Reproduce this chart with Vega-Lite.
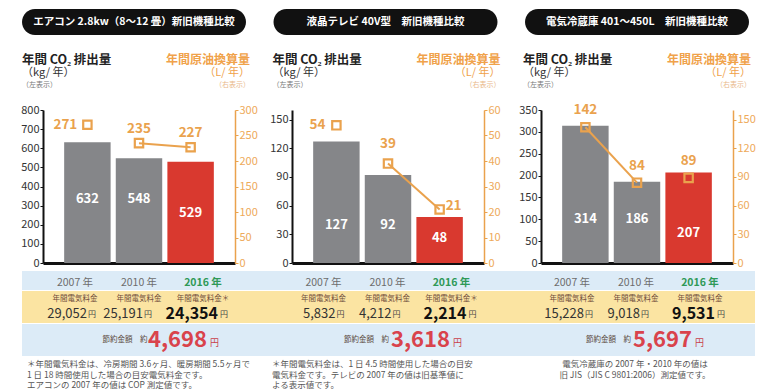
{
 "$schema": "https://vega.github.io/schema/vega-lite/v6.json",
 "background": "white",
 "padding": {"left": 20, "top": 9, "right": 0, "bottom": 0},
 "columns": 1,
 "align": "none",
 "spacing": 0,
 "config": {
  "view": {"stroke": null},
  "font": "Noto Sans CJK JP",
  "text": {"font": "Noto Sans CJK JP"},
  "axis": {"labelFont": "Noto Sans CJK JP", "grid": false, "labelOverlap": false},
  "axisY": {"labelOverlap": false, "tickCount": 20},
  "title": {"font": "Noto Sans CJK JP"}
 },
 "datasets": {
  "aircon": [
   {"year": "2007 年", "co2": 632, "oil": 271, "cost": 29052, "label": "年間電気料金"},
   {"year": "2010 年", "co2": 548, "oil": 235, "cost": 25191, "label": "年間電気料金"},
   {"year": "2016 年", "co2": 529, "oil": 227, "cost": 24354, "label": "年間電気料金＊"}
  ],
  "tv": [
   {"year": "2007 年", "co2": 127, "oil": 54, "cost": 5832, "label": "年間電気料金"},
   {"year": "2010 年", "co2": 92, "oil": 39, "cost": 4212, "label": "年間電気料金"},
   {"year": "2016 年", "co2": 48, "oil": 21, "cost": 2214, "label": "年間電気料金＊"}
  ],
  "fridge": [
   {"year": "2007 年", "co2": 314, "oil": 142, "cost": 15228, "label": "年間電気料金"},
   {"year": "2010 年", "co2": 186, "oil": 84, "cost": 9018, "label": "年間電気料金"},
   {"year": "2016 年", "co2": 207, "oil": 89, "cost": 9531, "label": "年間電気料金"}
  ],
  "header": [
   {"side": "左", "line": 1, "text": "年間 CO₂ 排出量"},
   {"side": "左", "line": 2, "text": "（kg/ 年）"},
   {"side": "左", "line": 3, "text": "（左表示）"},
   {"side": "右", "line": 1, "text": "年間原油換算量"},
   {"side": "右", "line": 2, "text": "（L/ 年）"},
   {"side": "右", "line": 3, "text": "（右表示）"}
  ],
  "none": []
 },
 "concat": [
  {
   "spacing": 27.5,
   "hconcat": [
    {"width": 224, "height": 26, "view": {"fill": "#111111", "cornerRadius": 13, "stroke": null},
     "data": {"values": [{"t": "エアコン 2.8kw（8～12 畳）新旧機種比較"}]},
     "mark": {"type": "text", "color": "white", "fontWeight": "bold", "fontSize": 10.5},
     "encoding": {"text": {"field": "t"}}},
    {"width": 224, "height": 26, "view": {"fill": "#111111", "cornerRadius": 13, "stroke": null},
     "data": {"values": [{"t": "液晶テレビ 40V型　新旧機種比較"}]},
     "mark": {"type": "text", "color": "white", "fontWeight": "bold", "fontSize": 10.5},
     "encoding": {"text": {"field": "t"}}},
    {"width": 224, "height": 26, "view": {"fill": "#111111", "cornerRadius": 13, "stroke": null},
     "data": {"values": [{"t": "電気冷蔵庫 401～450L　新旧機種比較"}]},
     "mark": {"type": "text", "color": "white", "fontWeight": "bold", "fontSize": 10.5},
     "encoding": {"text": {"field": "t"}}}
   ]
  },
  {
   "spacing": 22.5,
   "hconcat": [
    {"width": 228, "height": 67.5, "data": {"name": "header"},
     "encoding": {
      "x": {"field": "side", "type": "nominal", "scale": {"type": "point", "domain": ["左", "右"], "padding": 0}, "axis": null},
      "y": {"field": "line", "type": "ordinal", "scale": {"type": "point", "domain": [1, 2, 3], "range": [25, 50], "padding": 0}, "axis": null},
      "text": {"field": "text"}
     },
     "layer": [
      {"transform": [{"filter": "datum.side == '左' && datum.line == 1"}], "mark": {"type": "text", "align": "left", "fontSize": 12.5, "fontWeight": "bold", "color": "#222222"}},
      {"transform": [{"filter": "datum.side == '左' && datum.line == 2"}], "mark": {"type": "text", "align": "left", "fontSize": 11, "color": "#333333"}},
      {"transform": [{"filter": "datum.side == '左' && datum.line == 3"}], "mark": {"type": "text", "align": "left", "fontSize": 7, "color": "#777777"}},
      {"transform": [{"filter": "datum.side == '右' && datum.line == 1"}], "mark": {"type": "text", "align": "right", "fontSize": 12, "fontWeight": "bold", "color": "#f0a24a"}},
      {"transform": [{"filter": "datum.side == '右' && datum.line == 2"}], "mark": {"type": "text", "align": "right", "fontSize": 11, "color": "#f0a24a"}},
      {"transform": [{"filter": "datum.side == '右' && datum.line == 3"}], "mark": {"type": "text", "align": "right", "fontSize": 7, "color": "#e9b888"}}
     ]},
    {"width": 228, "height": 67.5, "data": {"name": "header"},
     "encoding": {
      "x": {"field": "side", "type": "nominal", "scale": {"type": "point", "domain": ["左", "右"], "padding": 0}, "axis": null},
      "y": {"field": "line", "type": "ordinal", "scale": {"type": "point", "domain": [1, 2, 3], "range": [25, 50], "padding": 0}, "axis": null},
      "text": {"field": "text"}
     },
     "layer": [
      {"transform": [{"filter": "datum.side == '左' && datum.line == 1"}], "mark": {"type": "text", "align": "left", "fontSize": 12.5, "fontWeight": "bold", "color": "#222222"}},
      {"transform": [{"filter": "datum.side == '左' && datum.line == 2"}], "mark": {"type": "text", "align": "left", "fontSize": 11, "color": "#333333"}},
      {"transform": [{"filter": "datum.side == '左' && datum.line == 3"}], "mark": {"type": "text", "align": "left", "fontSize": 7, "color": "#777777"}},
      {"transform": [{"filter": "datum.side == '右' && datum.line == 1"}], "mark": {"type": "text", "align": "right", "fontSize": 12, "fontWeight": "bold", "color": "#f0a24a"}},
      {"transform": [{"filter": "datum.side == '右' && datum.line == 2"}], "mark": {"type": "text", "align": "right", "fontSize": 11, "color": "#f0a24a"}},
      {"transform": [{"filter": "datum.side == '右' && datum.line == 3"}], "mark": {"type": "text", "align": "right", "fontSize": 7, "color": "#e9b888"}}
     ]},
    {"width": 228, "height": 67.5, "data": {"name": "header"},
     "encoding": {
      "x": {"field": "side", "type": "nominal", "scale": {"type": "point", "domain": ["左", "右"], "padding": 0}, "axis": null},
      "y": {"field": "line", "type": "ordinal", "scale": {"type": "point", "domain": [1, 2, 3], "range": [25, 50], "padding": 0}, "axis": null},
      "text": {"field": "text"}
     },
     "layer": [
      {"transform": [{"filter": "datum.side == '左' && datum.line == 1"}], "mark": {"type": "text", "align": "left", "fontSize": 12.5, "fontWeight": "bold", "color": "#222222"}},
      {"transform": [{"filter": "datum.side == '左' && datum.line == 2"}], "mark": {"type": "text", "align": "left", "fontSize": 11, "color": "#333333"}},
      {"transform": [{"filter": "datum.side == '左' && datum.line == 3"}], "mark": {"type": "text", "align": "left", "fontSize": 7, "color": "#777777"}},
      {"transform": [{"filter": "datum.side == '右' && datum.line == 1"}], "mark": {"type": "text", "align": "right", "fontSize": 12, "fontWeight": "bold", "color": "#f0a24a"}},
      {"transform": [{"filter": "datum.side == '右' && datum.line == 2"}], "mark": {"type": "text", "align": "right", "fontSize": 11, "color": "#f0a24a"}},
      {"transform": [{"filter": "datum.side == '右' && datum.line == 3"}], "mark": {"type": "text", "align": "right", "fontSize": 7, "color": "#e9b888"}}
     ]}
   ]
  },
  {
   "spacing": 0,
   "bounds": "flush",
   "hconcat": [
    {"width": 21, "height": 161, "data": {"name": "none"}, "mark": "point"},
    {
     "width": 192, "height": 153,
     "data": {"name": "aircon"},
     "encoding": {"x": {"field": "year", "type": "nominal", "sort": null, "scale": {"paddingInner": 0.1, "paddingOuter": 0.41}, "axis": {"title": null, "labels": false, "ticks": false, "domainColor": "#111111", "domainWidth": 3}}},
     "layer": [
      {"layer": [
       {"mark": {"type": "bar"}, "encoding": {
        "y": {"field": "co2", "type": "quantitative", "title": null, "scale": {"domain": [0, 800]}, "axis": {"values": [0, 100, 200, 300, 400, 500, 600, 700, 800], "tickCount": 20, "labelOverlap": false, "domainColor": "#111111", "domainWidth": 2, "tickColor": "#111111", "tickSize": 3, "labelColor": "#333333", "labelFontSize": 11, "labelPadding": 1}},
        "color": {"field": "year", "type": "nominal", "scale": {"domain": ["2007 年", "2010 年", "2016 年"], "range": ["#858689", "#858689", "#d9392f"]}, "legend": null}}},
       {"transform": [{"filter": "datum.year != '2016 年'"}], "mark": {"type": "text", "color": "white", "fontWeight": "bold", "fontSize": 13}, "encoding": {"y": {"datum": 335, "type": "quantitative", "title": null}, "text": {"field": "co2", "type": "quantitative"}}},
       {"transform": [{"filter": "datum.year == '2016 年'"}], "mark": {"type": "text", "color": "white", "fontWeight": "bold", "fontSize": 13}, "encoding": {"y": {"datum": 261, "type": "quantitative", "title": null}, "text": {"field": "co2", "type": "quantitative"}}}
      ]},
      {"layer": [
       {"transform": [{"filter": "datum.year != '2007 年'"}], "mark": {"type": "line", "color": "#eaa24d", "strokeWidth": 2}, "encoding": {"y": {"field": "oil", "type": "quantitative", "title": null, "scale": {"domain": [0, 300]}, "axis": {"values": [0, 50, 100, 150, 200, 250, 300], "tickCount": 20, "labelOverlap": false, "domainColor": "#eaa24d", "domainWidth": 1.5, "tickColor": "#eaa24d", "tickSize": 3, "labelColor": "#eeaa5a", "labelFontSize": 11, "labelPadding": 1}}}},
       {"mark": {"type": "point", "shape": "square", "size": 70, "filled": false, "color": "#eaa24d", "strokeWidth": 2.2, "opacity": 1}, "encoding": {"y": {"field": "oil", "type": "quantitative", "title": null}}},
       {"transform": [{"filter": "datum.year != '2007 年'"}], "mark": {"type": "text", "color": "#eaa24d", "fontWeight": "bold", "fontSize": 13.5, "dy": -14}, "encoding": {"y": {"field": "oil", "type": "quantitative", "title": null}, "text": {"field": "oil", "type": "quantitative"}}},
       {"transform": [{"filter": "datum.year == '2007 年'"}], "mark": {"type": "text", "color": "#eaa24d", "fontWeight": "bold", "fontSize": 13.5, "dx": -22}, "encoding": {"y": {"field": "oil", "type": "quantitative", "title": null}, "text": {"field": "oil", "type": "quantitative"}}}
      ]}
     ],
     "resolve": {"scale": {"y": "independent"}}
    },
    {"width": 56.5, "height": 161, "data": {"name": "none"}, "mark": "point"},
    {
     "width": 192, "height": 153,
     "data": {"name": "tv"},
     "encoding": {"x": {"field": "year", "type": "nominal", "sort": null, "scale": {"paddingInner": 0.1, "paddingOuter": 0.41}, "axis": {"title": null, "labels": false, "ticks": false, "domainColor": "#111111", "domainWidth": 3}}},
     "layer": [
      {"layer": [
       {"mark": {"type": "bar"}, "encoding": {
        "y": {"field": "co2", "type": "quantitative", "title": null, "scale": {"domain": [0, 150]}, "axis": {"values": [0, 30, 60, 90, 120, 150], "tickCount": 20, "labelOverlap": false, "domainColor": "#111111", "domainWidth": 2, "tickColor": "#111111", "tickSize": 3, "labelColor": "#333333", "labelFontSize": 11, "labelPadding": 1}},
        "color": {"field": "year", "type": "nominal", "scale": {"domain": ["2007 年", "2010 年", "2016 年"], "range": ["#858689", "#858689", "#d9392f"]}, "legend": null}}},
       {"transform": [{"filter": "datum.year != '2016 年'"}], "mark": {"type": "text", "color": "white", "fontWeight": "bold", "fontSize": 13}, "encoding": {"y": {"datum": 40, "type": "quantitative", "title": null}, "text": {"field": "co2", "type": "quantitative"}}},
       {"transform": [{"filter": "datum.year == '2016 年'"}], "mark": {"type": "text", "color": "white", "fontWeight": "bold", "fontSize": 13}, "encoding": {"y": {"datum": 26, "type": "quantitative", "title": null}, "text": {"field": "co2", "type": "quantitative"}}}
      ]},
      {"layer": [
       {"transform": [{"filter": "datum.year != '2007 年'"}], "mark": {"type": "line", "color": "#eaa24d", "strokeWidth": 2}, "encoding": {"y": {"field": "oil", "type": "quantitative", "title": null, "scale": {"domain": [0, 60]}, "axis": {"values": [0, 10, 20, 30, 40, 50, 60], "tickCount": 20, "labelOverlap": false, "domainColor": "#eaa24d", "domainWidth": 1.5, "tickColor": "#eaa24d", "tickSize": 3, "labelColor": "#eeaa5a", "labelFontSize": 11, "labelPadding": 1}}}},
       {"mark": {"type": "point", "shape": "square", "size": 70, "filled": false, "color": "#eaa24d", "strokeWidth": 2.2, "opacity": 1}, "encoding": {"y": {"field": "oil", "type": "quantitative", "title": null}}},
       {"transform": [{"filter": "datum.year == '2010 年'"}], "mark": {"type": "text", "color": "#eaa24d", "fontWeight": "bold", "fontSize": 13.5, "dy": -20}, "encoding": {"y": {"field": "oil", "type": "quantitative", "title": null}, "text": {"field": "oil", "type": "quantitative"}}},
       {"transform": [{"filter": "datum.year == '2007 年'"}], "mark": {"type": "text", "color": "#eaa24d", "fontWeight": "bold", "fontSize": 13.5, "dx": -19}, "encoding": {"y": {"field": "oil", "type": "quantitative", "title": null}, "text": {"field": "oil", "type": "quantitative"}}},
       {"transform": [{"filter": "datum.year == '2016 年'"}], "mark": {"type": "text", "color": "#eaa24d", "fontWeight": "bold", "fontSize": 13.5, "dx": 14, "dy": -3}, "encoding": {"y": {"field": "oil", "type": "quantitative", "title": null}, "text": {"field": "oil", "type": "quantitative"}}}
      ]}
     ],
     "resolve": {"scale": {"y": "independent"}}
    },
    {"width": 56.5, "height": 161, "data": {"name": "none"}, "mark": "point"},
    {
     "width": 192, "height": 153,
     "data": {"name": "fridge"},
     "encoding": {"x": {"field": "year", "type": "nominal", "sort": null, "scale": {"paddingInner": 0.1, "paddingOuter": 0.41}, "axis": {"title": null, "labels": false, "ticks": false, "domainColor": "#111111", "domainWidth": 3}}},
     "layer": [
      {"layer": [
       {"mark": {"type": "bar"}, "encoding": {
        "y": {"field": "co2", "type": "quantitative", "title": null, "scale": {"domain": [0, 350]}, "axis": {"values": [0, 50, 100, 150, 200, 250, 300, 350], "tickCount": 20, "labelOverlap": false, "domainColor": "#111111", "domainWidth": 2, "tickColor": "#111111", "tickSize": 3, "labelColor": "#333333", "labelFontSize": 11, "labelPadding": 1}},
        "color": {"field": "year", "type": "nominal", "scale": {"domain": ["2007 年", "2010 年", "2016 年"], "range": ["#858689", "#858689", "#d9392f"]}, "legend": null}}},
       {"transform": [{"filter": "datum.year != '2016 年'"}], "mark": {"type": "text", "color": "white", "fontWeight": "bold", "fontSize": 13}, "encoding": {"y": {"datum": 100, "type": "quantitative", "title": null}, "text": {"field": "co2", "type": "quantitative"}}},
       {"transform": [{"filter": "datum.year == '2016 年'"}], "mark": {"type": "text", "color": "white", "fontWeight": "bold", "fontSize": 13}, "encoding": {"y": {"datum": 69, "type": "quantitative", "title": null}, "text": {"field": "co2", "type": "quantitative"}}}
      ]},
      {"layer": [
       {"transform": [{"filter": "datum.year != '2016 年'"}], "mark": {"type": "line", "color": "#eaa24d", "strokeWidth": 2}, "encoding": {"y": {"field": "oil", "type": "quantitative", "title": null, "scale": {"domain": [0, 150]}, "axis": {"values": [0, 30, 60, 90, 120, 150], "tickCount": 20, "labelOverlap": false, "domainColor": "#eaa24d", "domainWidth": 1.5, "tickColor": "#eaa24d", "tickSize": 3, "labelColor": "#eeaa5a", "labelFontSize": 11, "labelPadding": 1}}}},
       {"mark": {"type": "point", "shape": "square", "size": 70, "filled": false, "color": "#eaa24d", "strokeWidth": 2.2, "opacity": 1}, "encoding": {"y": {"field": "oil", "type": "quantitative", "title": null}}},
       {"mark": {"type": "text", "color": "#eaa24d", "fontWeight": "bold", "fontSize": 13.5, "dy": -17}, "encoding": {"y": {"field": "oil", "type": "quantitative", "title": null}, "text": {"field": "oil", "type": "quantitative"}}}
      ]}
     ],
     "resolve": {"scale": {"y": "independent"}}
    }
   ]
  },
  {
   "spacing": 0,
   "hconcat": [
    {
     "spacing": 1,
     "vconcat": [
      {"width": 245, "height": 19, "view": {"fill": "#dcebf7", "stroke": null}, "data": {"name": "aircon"},
       "encoding": {"x": {"field": "year", "type": "nominal", "sort": null, "scale": {"range": [21, 213], "paddingInner": 0.1, "paddingOuter": 0.41}, "axis": null}, "text": {"field": "year"}},
       "layer": [
        {"transform": [{"filter": "datum.year != '2016 年'"}], "mark": {"type": "text", "fontSize": 10.5, "color": "#6d6d6d", "dy": 2}},
        {"transform": [{"filter": "datum.year == '2016 年'"}], "mark": {"type": "text", "fontSize": 10.5, "fontWeight": "bold", "color": "#2f9957", "dy": 2}}
       ]},
      {"width": 245, "height": 32, "view": {"fill": "#fbe4a2", "stroke": null}, "data": {"name": "aircon"},
       "encoding": {"x": {"field": "year", "type": "nominal", "sort": null, "scale": {"range": [21, 213], "paddingInner": 0.1, "paddingOuter": 0.41}, "axis": null}},
       "layer": [
        {"mark": {"type": "text", "fontSize": 7.5, "color": "#6e4b3a", "dy": -8}, "encoding": {"text": {"field": "label"}}},
        {"transform": [{"filter": "datum.year == '2007 年'"}], "mark": {"type": "text", "fontSize": 13, "color": "#333333", "align": "right", "dx": 12, "dy": 7}, "encoding": {"text": {"field": "cost", "type": "quantitative", "format": ","}}},
        {"transform": [{"filter": "datum.year == '2010 年'"}], "mark": {"type": "text", "fontSize": 13, "color": "#333333", "align": "right", "dx": 4, "dy": 7}, "encoding": {"text": {"field": "cost", "type": "quantitative", "format": ","}}},
        {"transform": [{"filter": "datum.year == '2016 年'"}], "mark": {"type": "text", "fontSize": 16, "fontWeight": "bold", "color": "#111111", "align": "right", "dx": 15, "dy": 7}, "encoding": {"text": {"field": "cost", "type": "quantitative", "format": ","}}},
        {"transform": [{"filter": "datum.year == '2007 年'"}], "mark": {"type": "text", "fontSize": 8, "color": "#444444", "align": "left", "dx": 13, "dy": 8}, "encoding": {"text": {"value": "円"}}},
        {"transform": [{"filter": "datum.year == '2010 年'"}], "mark": {"type": "text", "fontSize": 8, "color": "#444444", "align": "left", "dx": 5, "dy": 8}, "encoding": {"text": {"value": "円"}}},
        {"transform": [{"filter": "datum.year == '2016 年'"}], "mark": {"type": "text", "fontSize": 8, "color": "#444444", "align": "left", "dx": 17, "dy": 8}, "encoding": {"text": {"value": "円"}}}
       ]},
      {"width": 245, "height": 32, "view": {"fill": "#dcebf7", "stroke": null}, "data": {"values": [{"saving": 4698}]},
       "title": {"text": ["＊年間電気料金は、冷房期間 3.6ヶ月、暖房期間 5.5ヶ月で", "　1 日 18 時間使用した場合の目安電気料金です。", "エアコンの 2007 年の値は COP 測定値です。"], "orient": "bottom", "anchor": "start", "dx": 5, "offset": 4, "fontSize": 8.5, "fontWeight": "normal", "color": "#555555", "lineHeight": 10.5},
       "layer": [
        {"mark": {"type": "text", "text": "節約金額　約", "fontSize": 7.5, "color": "#5b4a40", "align": "right", "dx": 3}, "encoding": {}},
        {"mark": {"type": "text", "fontSize": 22, "fontWeight": "bold", "color": "#d9434c", "align": "right", "dx": 62.5}, "encoding": {"text": {"field": "saving", "type": "quantitative", "format": ","}}},
        {"mark": {"type": "text", "text": "円", "fontSize": 9, "color": "#c8404a", "align": "left", "dx": 65.5, "dy": 3}, "encoding": {}}
       ]}
     ]
    },
    {
     "spacing": 1,
     "vconcat": [
      {"width": 248, "height": 19, "view": {"fill": "#dcebf7", "stroke": null}, "data": {"name": "tv"},
       "encoding": {"x": {"field": "year", "type": "nominal", "sort": null, "scale": {"range": [24.5, 216.5], "paddingInner": 0.1, "paddingOuter": 0.41}, "axis": null}, "text": {"field": "year"}},
       "layer": [
        {"transform": [{"filter": "datum.year != '2016 年'"}], "mark": {"type": "text", "fontSize": 10.5, "color": "#6d6d6d", "dy": 2}},
        {"transform": [{"filter": "datum.year == '2016 年'"}], "mark": {"type": "text", "fontSize": 10.5, "fontWeight": "bold", "color": "#2f9957", "dy": 2}}
       ]},
      {"width": 248, "height": 32, "view": {"fill": "#fbe4a2", "stroke": null}, "data": {"name": "tv"},
       "encoding": {"x": {"field": "year", "type": "nominal", "sort": null, "scale": {"range": [24.5, 216.5], "paddingInner": 0.1, "paddingOuter": 0.41}, "axis": null}},
       "layer": [
        {"mark": {"type": "text", "fontSize": 7.5, "color": "#6e4b3a", "dy": -8}, "encoding": {"text": {"field": "label"}}},
        {"transform": [{"filter": "datum.year == '2007 年'"}], "mark": {"type": "text", "fontSize": 13, "color": "#333333", "align": "right", "dx": 12, "dy": 7}, "encoding": {"text": {"field": "cost", "type": "quantitative", "format": ","}}},
        {"transform": [{"filter": "datum.year == '2010 年'"}], "mark": {"type": "text", "fontSize": 13, "color": "#333333", "align": "right", "dx": 4, "dy": 7}, "encoding": {"text": {"field": "cost", "type": "quantitative", "format": ","}}},
        {"transform": [{"filter": "datum.year == '2016 年'"}], "mark": {"type": "text", "fontSize": 16, "fontWeight": "bold", "color": "#111111", "align": "right", "dx": 15, "dy": 7}, "encoding": {"text": {"field": "cost", "type": "quantitative", "format": ","}}},
        {"transform": [{"filter": "datum.year == '2007 年'"}], "mark": {"type": "text", "fontSize": 8, "color": "#444444", "align": "left", "dx": 13, "dy": 8}, "encoding": {"text": {"value": "円"}}},
        {"transform": [{"filter": "datum.year == '2010 年'"}], "mark": {"type": "text", "fontSize": 8, "color": "#444444", "align": "left", "dx": 5, "dy": 8}, "encoding": {"text": {"value": "円"}}},
        {"transform": [{"filter": "datum.year == '2016 年'"}], "mark": {"type": "text", "fontSize": 8, "color": "#444444", "align": "left", "dx": 17, "dy": 8}, "encoding": {"text": {"value": "円"}}}
       ]},
      {"width": 248, "height": 32, "view": {"fill": "#dcebf7", "stroke": null}, "data": {"values": [{"saving": 3618}]},
       "title": {"text": ["＊年間電気料金は、1 日 4.5 時間使用した場合の目安", "電気料金です。テレビの 2007 年の値は旧基準値に", "よる表示値です。"], "orient": "bottom", "anchor": "start", "dx": 5, "offset": 4, "fontSize": 8.5, "fontWeight": "normal", "color": "#555555", "lineHeight": 10.5},
       "layer": [
        {"mark": {"type": "text", "text": "節約金額　約", "fontSize": 7.5, "color": "#5b4a40", "align": "right", "dx": -2}, "encoding": {}},
        {"mark": {"type": "text", "fontSize": 22, "fontWeight": "bold", "color": "#d9434c", "align": "right", "dx": 59}, "encoding": {"text": {"field": "saving", "type": "quantitative", "format": ","}}},
        {"mark": {"type": "text", "text": "円", "fontSize": 9, "color": "#c8404a", "align": "left", "dx": 62, "dy": 3}, "encoding": {}}
       ]}
     ]
    },
    {
     "spacing": 1,
     "vconcat": [
      {"width": 240, "height": 19, "view": {"fill": "#dcebf7", "stroke": null}, "data": {"name": "fridge"},
       "encoding": {"x": {"field": "year", "type": "nominal", "sort": null, "scale": {"range": [25, 217], "paddingInner": 0.1, "paddingOuter": 0.41}, "axis": null}, "text": {"field": "year"}},
       "layer": [
        {"transform": [{"filter": "datum.year != '2016 年'"}], "mark": {"type": "text", "fontSize": 10.5, "color": "#6d6d6d", "dy": 2}},
        {"transform": [{"filter": "datum.year == '2016 年'"}], "mark": {"type": "text", "fontSize": 10.5, "fontWeight": "bold", "color": "#2f9957", "dy": 2}}
       ]},
      {"width": 240, "height": 32, "view": {"fill": "#fbe4a2", "stroke": null}, "data": {"name": "fridge"},
       "encoding": {"x": {"field": "year", "type": "nominal", "sort": null, "scale": {"range": [25, 217], "paddingInner": 0.1, "paddingOuter": 0.41}, "axis": null}},
       "layer": [
        {"mark": {"type": "text", "fontSize": 7.5, "color": "#6e4b3a", "dy": -8}, "encoding": {"text": {"field": "label"}}},
        {"transform": [{"filter": "datum.year == '2007 年'"}], "mark": {"type": "text", "fontSize": 13, "color": "#333333", "align": "right", "dx": 12, "dy": 7}, "encoding": {"text": {"field": "cost", "type": "quantitative", "format": ","}}},
        {"transform": [{"filter": "datum.year == '2010 年'"}], "mark": {"type": "text", "fontSize": 13, "color": "#333333", "align": "right", "dx": 4, "dy": 7}, "encoding": {"text": {"field": "cost", "type": "quantitative", "format": ","}}},
        {"transform": [{"filter": "datum.year == '2016 年'"}], "mark": {"type": "text", "fontSize": 16, "fontWeight": "bold", "color": "#111111", "align": "right", "dx": 15, "dy": 7}, "encoding": {"text": {"field": "cost", "type": "quantitative", "format": ","}}},
        {"transform": [{"filter": "datum.year == '2007 年'"}], "mark": {"type": "text", "fontSize": 8, "color": "#444444", "align": "left", "dx": 13, "dy": 8}, "encoding": {"text": {"value": "円"}}},
        {"transform": [{"filter": "datum.year == '2010 年'"}], "mark": {"type": "text", "fontSize": 8, "color": "#444444", "align": "left", "dx": 5, "dy": 8}, "encoding": {"text": {"value": "円"}}},
        {"transform": [{"filter": "datum.year == '2016 年'"}], "mark": {"type": "text", "fontSize": 8, "color": "#444444", "align": "left", "dx": 17, "dy": 8}, "encoding": {"text": {"value": "円"}}}
       ]},
      {"width": 240, "height": 32, "view": {"fill": "#dcebf7", "stroke": null}, "data": {"values": [{"saving": 5697}]},
       "title": {"text": ["電気冷蔵庫の 2007 年・2010 年の値は", "旧 JIS（JIS C 9801:2006）測定値です。"], "orient": "bottom", "anchor": "middle", "offset": 4, "fontSize": 8.5, "fontWeight": "normal", "color": "#555555", "lineHeight": 10.5},
       "layer": [
        {"mark": {"type": "text", "text": "節約金額　約", "fontSize": 7.5, "color": "#5b4a40", "align": "right", "dx": -4}, "encoding": {}},
        {"mark": {"type": "text", "fontSize": 22, "fontWeight": "bold", "color": "#d9434c", "align": "right", "dx": 57}, "encoding": {"text": {"field": "saving", "type": "quantitative", "format": ","}}},
        {"mark": {"type": "text", "text": "円", "fontSize": 9, "color": "#c8404a", "align": "left", "dx": 60, "dy": 3}, "encoding": {}}
       ]}
     ]
    }
   ]
  }
 ]
}
